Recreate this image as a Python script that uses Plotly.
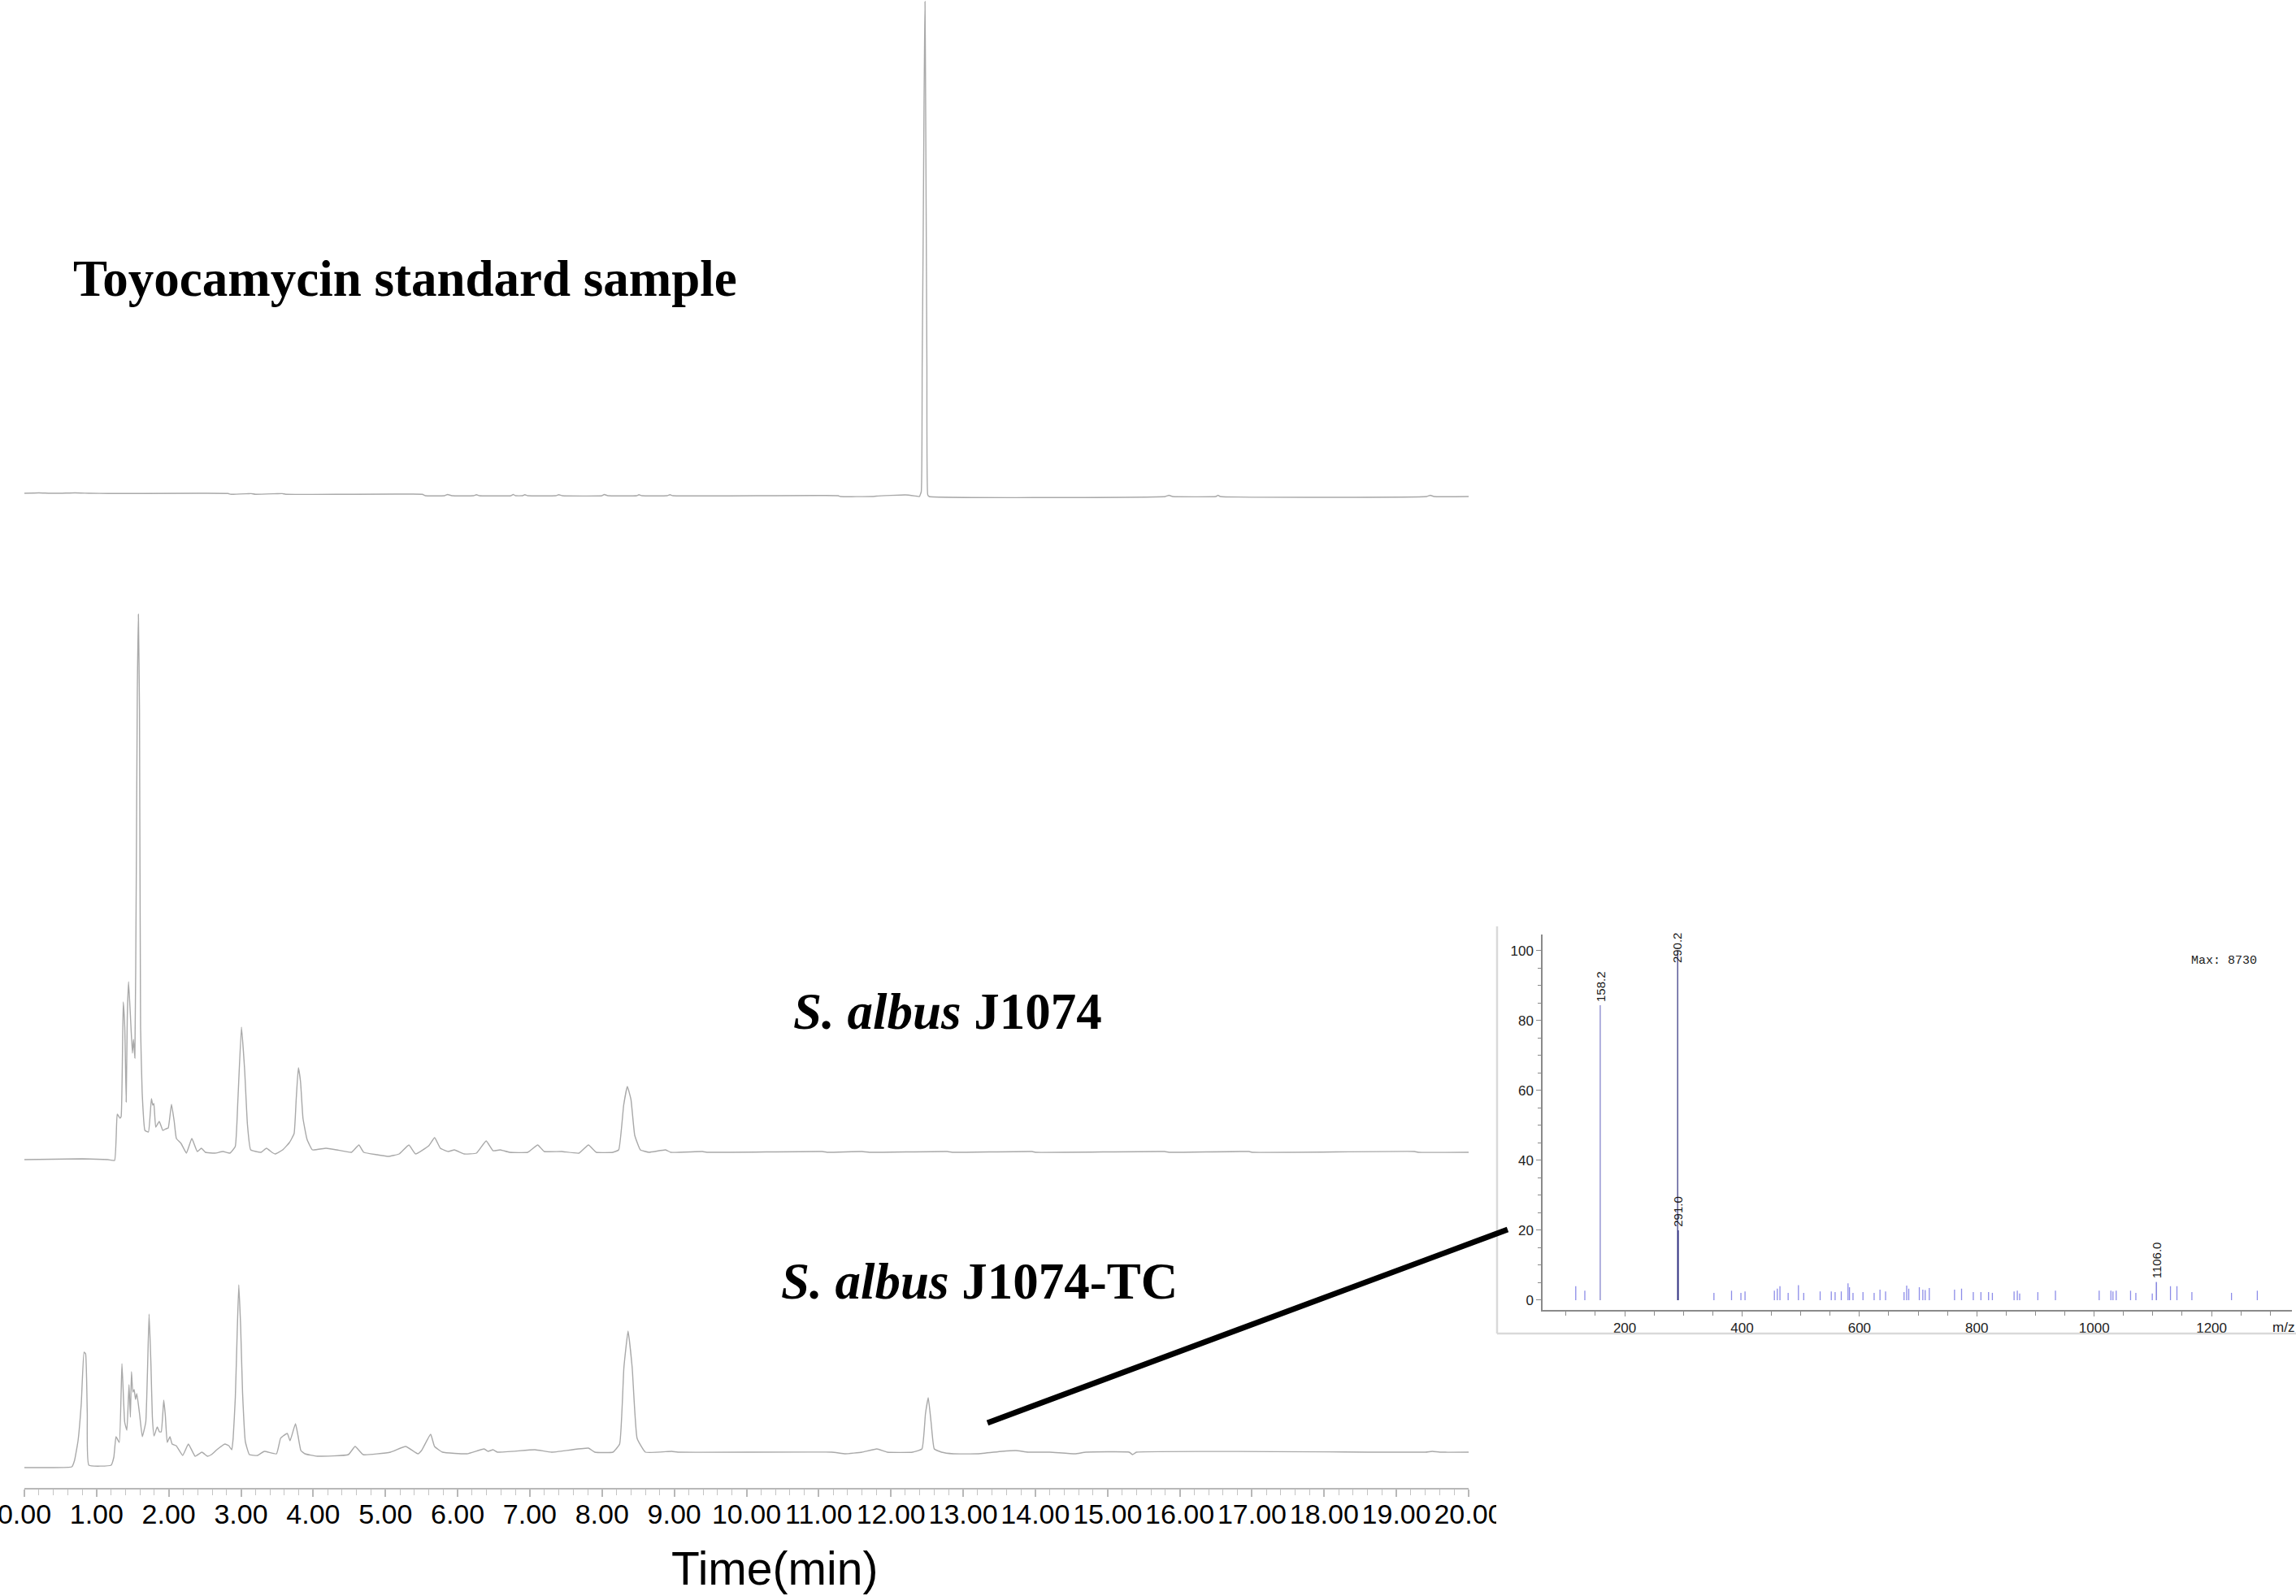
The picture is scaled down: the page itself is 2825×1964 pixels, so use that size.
import plotly.graph_objects as go

W, H = 2825, 1964

# ---------------- HPLC traces (time in min, signal in a.u. above baseline) ----------------
std_time = [0.0, 0.2, 0.35, 0.5, 0.7, 0.9, 1.17, 2.82, 2.86, 3.1, 3.14, 3.2, 3.5, 3.57, 3.62,
            5.51, 5.55, 5.82, 5.86, 5.92, 6.22, 6.26, 6.3, 6.74, 6.77, 6.8, 6.9, 6.93, 6.97,
            7.36, 7.40, 7.45, 8.0, 8.03, 8.08, 8.48, 8.51, 8.55, 8.9, 8.94, 8.98, 11.27, 11.3,
            11.74, 11.8, 12.2, 12.35, 12.395, 12.42, 12.433, 12.447, 12.459, 12.465, 12.472,
            12.478, 12.485, 12.498, 12.51, 12.53, 15.8, 15.85, 15.9, 16.5, 16.53, 16.56, 19.42,
            19.47, 19.52, 20.0]
std_signal = [4, 4.5, 4, 4, 4.5, 4, 3.7, 3.7, 2.7, 3.5, 3.6, 2.7, 3.5, 3.6, 2.7,
              2.7, 1, 1, 2.5, 1, 1, 2.2, 1, 1, 2.5, 1, 1, 2.2, 1,
              1, 2.2, 1, 1, 2.5, 1, 1, 2.2, 1, 1, 2.2, 1, 1, 0,
              0, 0.5, 2, 0.5, 0, 6, 161, 325, 488, 550, 609,
              529, 407, 161, 2, 0, 0, 1.5, 0, 0, 1.5, 0, 0,
              1.5, 0, 0]

wt_time = [0.0, 0.8, 1.155, 1.249, 1.286, 1.324, 1.34, 1.369, 1.39, 1.41, 1.425, 1.443, 1.474,
           1.496, 1.511, 1.53, 1.549, 1.564, 1.579, 1.594, 1.609, 1.631, 1.669, 1.718, 1.759,
           1.778, 1.793, 1.819, 1.868, 1.917, 1.962, 1.992, 2.037, 2.075, 2.105, 2.169, 2.244,
           2.319, 2.394, 2.451, 2.507, 2.639, 2.751, 2.845, 2.92, 2.957, 3.006, 3.051, 3.089,
           3.134, 3.277, 3.352, 3.427, 3.472, 3.577, 3.67, 3.735, 3.764, 3.794, 3.824, 3.858,
           3.914, 3.989, 4.177, 4.327, 4.53, 4.632, 4.70, 4.886, 5.04, 5.19, 5.325, 5.416,
           5.6, 5.681, 5.76, 5.87, 5.956, 6.09, 6.26, 6.395, 6.49, 6.59, 6.72, 6.97, 7.108,
           7.2, 7.44, 7.68, 7.811, 7.92, 8.15, 8.23, 8.299, 8.35, 8.40, 8.452, 8.53, 8.65,
           8.88, 8.95, 9.39, 9.45, 11.05, 11.12, 11.6, 11.7, 12.78, 12.85, 13.955, 14.0,
           15.79, 15.85, 16.96, 17.0, 19.25, 19.3, 20.0]
wt_signal = [-9, -8, -9, -10, 47, 42, 44, 185, 154, 62, 167, 210, 158,
             122, 139, 116, 331, 567, 662, 545, 154, 74, 27, 25, 66,
             58, 60, 31, 38, 27, 29, 30, 59, 38, 17, 11, -1,
             17, 1, 5, 0, -1, 1, -1, 7, 65, 154, 100, 34,
             3, 0, 5, 0, -2, 3, 12, 23, 65, 104, 87, 42,
             16, 3, 5, 3, 0, 9, 0, -3, -5, -2, 9, -2,
             8, 18, 5, 1, 3, -2, -1, 14, 2, 3, 0, 0, 9,
             1, 1, -1, 9, 0, 0, 3, 58, 81, 65, 21, 3, 0,
             3, 0, 1, 0, 1, 0, 1, 0, 1, 0, 1, 0,
             1, 0, 1, 0, 1, 0, 0]

tc_time = [0.0, 0.357, 0.657, 0.695, 0.743, 0.788, 0.826, 0.848, 0.871, 0.893, 1.201, 1.239,
           1.269, 1.314, 1.351, 1.389, 1.419, 1.449, 1.468, 1.483, 1.502, 1.52, 1.539, 1.557,
           1.595, 1.633, 1.681, 1.727, 1.753, 1.772, 1.795, 1.84, 1.87, 1.895, 1.93, 1.953,
           1.978, 2.016, 2.046, 2.102, 2.192, 2.271, 2.365, 2.459, 2.534, 2.59, 2.665, 2.778,
           2.83, 2.872, 2.891, 2.921, 2.947, 2.969, 2.995, 3.021, 3.06, 3.116, 3.229, 3.322,
           3.491, 3.547, 3.584, 3.641, 3.679, 3.754, 3.79, 3.829, 3.885, 4.054, 4.486, 4.58,
           4.692, 5.07, 5.28, 5.45, 5.5, 5.626, 5.68, 5.79, 6.13, 6.367, 6.42, 6.49, 6.55,
           7.07, 7.3, 7.81, 7.9, 8.15, 8.243, 8.302, 8.36, 8.417, 8.485, 8.6, 8.965, 9.05,
           11.18, 11.37, 11.6, 11.806, 11.95, 12.3, 12.43, 12.478, 12.517, 12.556, 12.6,
           12.7, 12.864, 13.2, 13.536, 13.73, 13.9, 14.2, 14.55, 14.7, 15.3, 15.347, 15.4,
           19.4, 19.5, 19.6, 20.0]
tc_signal = [-19, -19, -18, -10, 14, 60, 123, 121, 47, -16, -16, -6,
             19, 12, 109, 37, 27, 83, 43, 99, 74, 77, 65, 72,
             47, 19, 37, 170, 107, 44, 20, 31, 25, 25, 64, 44,
             12, 19, 10, 8, -4, 10, -5, 0, -5, -3, 3, 10,
             8, 3, 17, 67, 147, 206, 154, 74, 13, -3, -4, 1,
             -2, 17, 20, 23, 14, 35, 20, 2, -2, -5, -3, 7,
             -3, 0, 7, -2, 2, 22, 7, 0, -2, 4, 1, 3, 0,
             3, 0, 5, 0, 0, 10, 104, 149, 104, 17, 0, 1, 0,
             0, -2, 0, 4, 0, 0, 4, 47, 67, 37, 4,
             0, -2, -2, 1, 2, 0, 0, -2, 0, 0, -3, 0,
             0, 1, 0, 0]

time_ticks = [float(i) for i in range(0, 21)]

# ---------------- MS spectrum of the 12.45 min peak ----------------
ms_mz = [116.5, 132, 352, 382, 398, 405, 455, 460, 464.5, 478.5, 496, 505, 533, 552, 558.5,
         569, 580.5, 583, 589, 606, 625, 635, 644.5, 676, 680.5, 684, 702, 708, 712, 719,
         762, 774, 794, 807, 820, 826.5, 863.5, 869, 873, 904, 934, 1008.5, 1028.5, 1032,
         1037.5, 1062, 1071, 1099, 1130, 1141, 1166.5, 1234, 1278]
ms_int = [4.0, 2.7, 2.1, 2.7, 2.1, 2.5, 2.7, 3.3, 4.0, 2.1, 4.3, 2.1, 2.5, 2.5, 2.3,
          2.5, 4.8, 3.7, 2.1, 2.3, 2.1, 3.0, 2.5, 2.3, 4.2, 3.3, 3.7, 3.0, 2.9, 3.5,
          3.0, 3.3, 2.3, 2.3, 2.3, 2.1, 2.5, 2.7, 1.9, 2.3, 2.7, 2.7, 2.7, 2.5,
          2.7, 2.7, 2.1, 1.9, 4.0, 4.0, 2.3, 2.1, 2.7]
major_mz = [158.2, 290.2, 291.0, 1106.0]
major_int = [84.4, 100.0, 20.0, 5.2]
major_color = ['#9c9cd6', '#62629e', '#2e2e80', '#8a8ae0']
major_label = ['158.2', '290.2', '291.0', '1106.0']
major_label_y = [84.4, 95.6, 20.0, 5.2]
ms_max_text = 'Max: 8730'


def px(p):
    return p / W


def py(p):
    return 1 - p / H


def sticks(xs, ys):
    sx, sy = [], []
    for a, b in zip(xs, ys):
        sx += [a, a, None]
        sy += [0, b, None]
    return sx, sy


fig = go.Figure()

trace_line = dict(color='#a9a9a9', width=1.4, shape='spline', smoothing=0.35)
fig.add_trace(go.Scatter(x=std_time, y=std_signal, xaxis='x', yaxis='y', mode='lines',
                         line=trace_line, hoverinfo='skip', showlegend=False))
fig.add_trace(go.Scatter(x=wt_time, y=wt_signal, xaxis='x', yaxis='y2', mode='lines',
                         line=trace_line, hoverinfo='skip', showlegend=False))
fig.add_trace(go.Scatter(x=tc_time, y=tc_signal, xaxis='x', yaxis='y3', mode='lines',
                         line=trace_line, hoverinfo='skip', showlegend=False))

sx, sy = sticks(ms_mz, ms_int)
fig.add_trace(go.Scatter(x=sx, y=sy, xaxis='x2', yaxis='y4', mode='lines',
                         line=dict(color='#8c8ce8', width=1.3), hoverinfo='skip', showlegend=False))
for m, v, c in zip(major_mz, major_int, major_color):
    fig.add_trace(go.Scatter(x=[m, m], y=[0, v], xaxis='x2', yaxis='y4', mode='lines',
                             line=dict(color=c, width=1.6), hoverinfo='skip', showlegend=False))

narrow = 'Liberation Sans Narrow, Arial Narrow, Liberation Sans, sans-serif'
fig.update_layout(
    width=W, height=H, autosize=False,
    margin=dict(l=0, r=0, t=0, b=0, pad=0, autoexpand=False),
    paper_bgcolor='white', plot_bgcolor='white',
    xaxis=dict(domain=[px(30), px(1807)], range=[0, 20], anchor='free', position=py(1832),
               showline=True, linecolor='#b8b8b8', linewidth=2,
               ticks='outside', ticklen=9, tickwidth=1.5, tickcolor='#b8b8b8',
               tickvals=time_ticks, tickformat='.2f', ticklabeloverflow='allow', tickangle=0,
               ticklabelstandoff=-8,
               tickfont=dict(family='Liberation Sans, Arial, sans-serif', size=34, color='black'),
               minor=dict(dtick=0.2, tick0=0, ticks='outside', ticklen=7, tickcolor='#c4c4c4', tickwidth=1.2),
               showgrid=False, zeroline=False, automargin=False),
    yaxis=dict(domain=[py(636), 1.0], range=[-25, 611], visible=False),
    yaxis2=dict(domain=[py(1438), py(718)], range=[-20, 700], visible=False),
    yaxis3=dict(domain=[py(1812), py(1547)], range=[-25, 240], visible=False),
    xaxis2=dict(domain=[px(1898), px(2820)], range=[60, 1337], anchor='y4',
                showline=True, linecolor='#8a8a8a', linewidth=1.5,
                ticks='outside', ticklen=6, tickcolor='#8a8a8a', tickwidth=1,
                tickvals=[200, 400, 600, 800, 1000, 1200], tickangle=0,
                tickfont=dict(family=narrow, size=17, color='#222'),
                minor=dict(dtick=50, tick0=0, ticks='outside', ticklen=5, tickcolor='#8a8a8a'),
                showgrid=False, zeroline=False, automargin=False),
    yaxis4=dict(domain=[py(1612), py(1150)], range=[-2.8, 104.65], anchor='x2',
                showline=True, linecolor='#8a8a8a', linewidth=1.5,
                ticks='outside', ticklen=6, tickcolor='#8a8a8a', tickwidth=1,
                tickvals=[0, 20, 40, 60, 80, 100],
                tickfont=dict(family=narrow, size=17, color='#222'),
                minor=dict(dtick=5, tick0=0, ticks='outside', ticklen=4, tickcolor='#8a8a8a'),
                showgrid=False, zeroline=False, automargin=False),
)

ann = []
serif = 'Liberation Serif, Times New Roman, serif'
ann.append(dict(text='<b>Toyocamycin standard sample</b>', xref='paper', yref='paper',
                x=px(498), y=py(343), xanchor='center', yanchor='middle', showarrow=False,
                font=dict(family=serif, size=63, color='black')))
ann.append(dict(text='<b><i>S. albus</i> J1074</b>', xref='paper', yref='paper',
                x=px(1166), y=py(1245), xanchor='center', yanchor='middle', showarrow=False,
                font=dict(family=serif, size=63, color='black')))
ann.append(dict(text='<b><i>S. albus</i> J1074-TC</b>', xref='paper', yref='paper',
                x=px(1205), y=py(1577), xanchor='center', yanchor='middle', showarrow=False,
                font=dict(family=serif, size=63, color='black')))
ann.append(dict(text='Time(min)', xref='paper', yref='paper', x=px(953), y=py(1930),
                xanchor='center', yanchor='middle', showarrow=False,
                font=dict(family='Liberation Sans, Arial, sans-serif', size=57, color='black')))
for m, ly, lab in zip(major_mz, major_label_y, major_label):
    ann.append(dict(text=lab, xref='x2', yref='y4', x=m, y=ly, xanchor='center', yanchor='bottom',
                    textangle=-90, showarrow=False, yshift=2,
                    font=dict(family='Liberation Sans, Arial, sans-serif', size=15, color='#1a1a1a')))
ann.append(dict(text=ms_max_text, xref='paper', yref='paper', x=px(2736), y=py(1182),
                xanchor='center', yanchor='middle', showarrow=False,
                font=dict(family='Liberation Mono, Courier New, monospace', size=15, color='#222')))
ann.append(dict(text='m/z', xref='paper', yref='paper', x=px(2825), y=py(1633),
                xanchor='right', yanchor='middle', showarrow=False,
                font=dict(family=narrow, size=17, color='#222')))
fig.update_layout(annotations=ann)

shapes = []
# white mask: the chromatogram panel is cropped at the inset frame
shapes.append(dict(type='rect', xref='paper', yref='paper', x0=px(1841), x1=1.0, y0=0, y1=py(1645),
                   fillcolor='white', line=dict(width=0), layer='above'))
# inset frame (left and bottom edges)
shapes.append(dict(type='line', xref='paper', yref='paper', x0=px(1842), x1=px(1842), y0=py(1140), y1=py(1641),
                   line=dict(color='#d9d9d9', width=2.5), layer='above'))
shapes.append(dict(type='line', xref='paper', yref='paper', x0=px(1842), x1=1.0, y0=py(1641), y1=py(1641),
                   line=dict(color='#d9d9d9', width=2.5), layer='above'))
# connector from the 12.45 min peak to the spectrum
shapes.append(dict(type='line', xref='paper', yref='paper', x0=px(1215), y0=py(1751), x1=px(1855), y1=py(1513),
                   line=dict(color='black', width=7), layer='above'))
fig.update_layout(shapes=shapes)

page_fix = ("document.documentElement.style.margin='0';document.documentElement.style.overflow='hidden';"
            "document.body.style.margin='0';document.body.style.padding='0';document.body.style.overflow='hidden';")
fig.write_html('out.html', config={'displayModeBar': False, 'responsive': False}, post_script=page_fix)
